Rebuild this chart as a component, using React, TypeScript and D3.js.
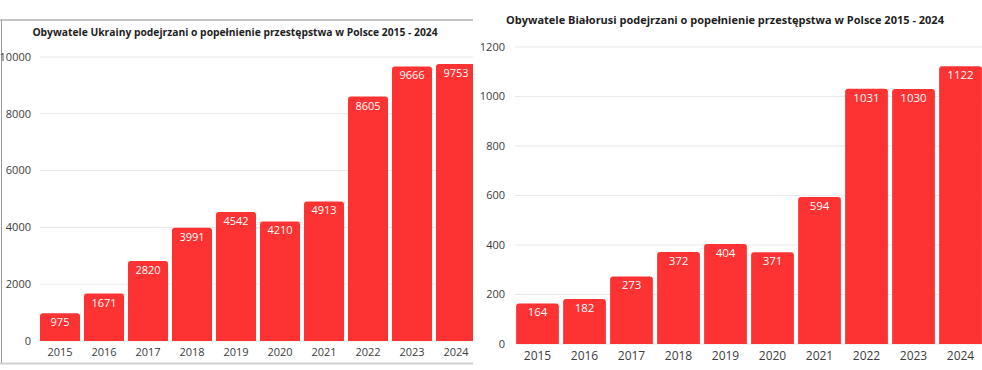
import React from 'react';
import * as d3 from 'd3';

/* data */
const years = ['2015', '2016', '2017', '2018', '2019', '2020', '2021', '2022', '2023', '2024'];
const ukraine = [975, 1671, 2820, 3991, 4542, 4210, 4913, 8605, 9666, 9753];
const belarus = [164, 182, 273, 372, 404, 371, 594, 1031, 1030, 1122];
const ukraineTicks = [0, 2000, 4000, 6000, 8000, 10000];
const belarusTicks = [0, 200, 400, 600, 800, 1000, 1200];
const ukraineTitle = 'Obywatele Ukrainy podejrzani o popełnienie przestępstwa w Polsce 2015 - 2024';
const belarusTitle = 'Obywatele Białorusi podejrzani o popełnienie przestępstwa w Polsce 2015 - 2024';

const RED = '#fd3232';
const GRID = '#e9e9e9';
const AXIS_TXT = '#3c3c3c';
const FONT = '"Open Sans", sans-serif';

type ChartProps = {
  id: string;
  values: number[];
  ticks: number[];
  title: string;
  titleX: number;
  titleY: number;
  titleSize: number;
  xRange: [number, number];
  yRange: [number, number];
  gridX: [number, number];
  tickX: number;
  tickSize: number;
  yearY: number;
  yearSize: number;
  valueSize: number;
  clipRight: number;
};

function BarChart(p: ChartProps) {
  const x = d3.scaleBand<string>()
    .domain(years)
    .range(p.xRange)
    .paddingInner(0.09)
    .paddingOuter(0.045);
  const y = d3.scaleLinear()
    .domain([0, p.ticks[p.ticks.length - 1]])
    .range(p.yRange);
  const bw = x.bandwidth();
  const r = 3;

  // bar with rounded top corners
  const barPath = (x0: number, y0: number, w: number, y1: number) =>
    `M${x0},${y1}V${y0 + r}Q${x0},${y0} ${x0 + r},${y0}H${x0 + w - r}Q${x0 + w},${y0} ${x0 + w},${y0 + r}V${y1}Z`;

  return (
    <g fontFamily={FONT}>
      <clipPath id={p.id}>
        <rect x={0} y={0} width={p.clipRight} height={370} />
      </clipPath>
      <text x={p.titleX} y={p.titleY} textAnchor="middle" fontWeight={700}
        fontSize={p.titleSize} fill="#1e1e1e">{p.title}</text>

      {/* grid + y ticks */}
      {p.ticks.map(t => (
        <g key={t}>
          <line x1={p.gridX[0]} x2={p.gridX[1]} y1={y(t)} y2={y(t)} stroke={GRID} />
          <text x={p.tickX} y={y(t)} dy="0.35em" textAnchor="end"
            fontSize={p.tickSize} fill={AXIS_TXT}>{t}</text>
        </g>
      ))}

      <g clipPath={`url(#${p.id})`}>
        {p.values.map((v, i) => {
          const x0 = x(years[i])!;
          const y0 = y(v);
          return (
            <g key={years[i]}>
              <path d={barPath(x0, y0, bw, y(0))} fill={RED} />
              <text x={x0 + bw / 2} y={y0 + 13} textAnchor="middle"
                fontSize={p.valueSize} fill="#fff">{v}</text>
            </g>
          );
        })}
      </g>

      {years.map(yr => (
        <text key={yr} x={x(yr)! + bw / 2} y={p.yearY} textAnchor="middle"
          fontSize={p.yearSize} fill={AXIS_TXT}>{yr}</text>
      ))}
    </g>
  );
}

export default function App() {
  return (
    <svg width={982} height={370} style={{ position: 'absolute', left: 0, top: 0, background: '#fff' }}>
      {/* frame of the left screenshot */}
      <line x1={0} x2={473} y1={20} y2={20} stroke="#8a8a8a" />
      <line x1={1.5} x2={1.5} y1={20} y2={363} stroke="#9a9a9a" />
      <line x1={0} x2={473} y1={363.5} y2={363.5} stroke="#cfcfcf" strokeWidth={2} />

      <BarChart
        id="clipUa"
        values={ukraine}
        ticks={ukraineTicks}
        title={ukraineTitle}
        titleX={235}
        titleY={36}
        titleSize={10.3}
        xRange={[38, 478]}
        yRange={[341, 57]}
        gridX={[40, 473]}
        tickX={31}
        tickSize={11}
        yearY={356}
        yearSize={11}
        valueSize={11}
        clipRight={473}
      />
      <BarChart
        id="clipBy"
        values={belarus}
        ticks={belarusTicks}
        title={belarusTitle}
        titleX={725}
        titleY={24}
        titleSize={11}
        xRange={[514, 984]}
        yRange={[344, 47]}
        gridX={[515, 982]}
        tickX={505}
        tickSize={11}
        yearY={360}
        yearSize={12}
        valueSize={11.5}
        clipRight={982}
      />
    </svg>
  );
}
